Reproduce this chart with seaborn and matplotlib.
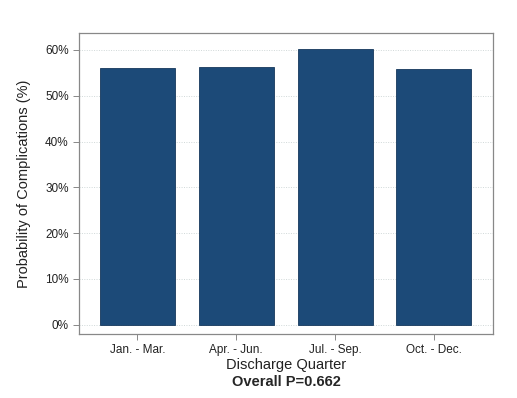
import numpy as np
import pandas as pd
import matplotlib
matplotlib.use("Agg")
import matplotlib.pyplot as plt
import seaborn as sns
from matplotlib.ticker import FuncFormatter

# data
quarters = ["Jan. - Mar.", "Apr. - Jun.", "Jul. - Sep.", "Oct. - Dec."]
probability = [56.1, 56.3, 60.3, 55.9]
y_ticks = [0, 10, 20, 30, 40, 50, 60]

df = pd.DataFrame({"quarter": quarters, "prob": probability})

sns.set_style("white")
plt.rcParams["font.family"] = ["Liberation Sans", "DejaVu Sans"]

fig = plt.figure(figsize=(5.17, 3.98), dpi=100)
ax = fig.add_axes([0.153, 0.161, 0.801, 0.756])

sns.barplot(data=df, x="quarter", y="prob", color="#1c4a78", saturation=1,
            width=0.76, edgecolor="#16385c", linewidth=0.6, ax=ax, zorder=3)

ax.set_xlim(-0.59, 3.6)
ax.set_ylim(-2, 63.7)
ax.set_yticks(y_ticks)
ax.yaxis.set_major_formatter(FuncFormatter(lambda v, p: f"{int(v)}%"))
ax.grid(axis="y", color="#d0d8d8", linestyle=(0, (1, 1.5)), linewidth=0.7, zorder=0)

for s in ax.spines.values():
    s.set_color("#888888")
    s.set_linewidth(0.9)

ax.tick_params(axis="both", labelsize=8.5, colors="#222222", length=4, width=0.7,
               direction="out", left=True, bottom=True)
ax.tick_params(axis="x", color="#888888")
ax.tick_params(axis="y", color="#888888")

ax.set_ylabel("Probability of Complications (%)", fontsize=10.5, color="#222222", labelpad=10)
ax.set_xlabel("Discharge Quarter", fontsize=10.5, color="#222222", labelpad=1)

fig.text(0.555, 0.022, "Overall P=0.662", ha="center", va="bottom",
         fontsize=10.5, fontweight="bold")

fig.savefig("out.png", dpi=100)
